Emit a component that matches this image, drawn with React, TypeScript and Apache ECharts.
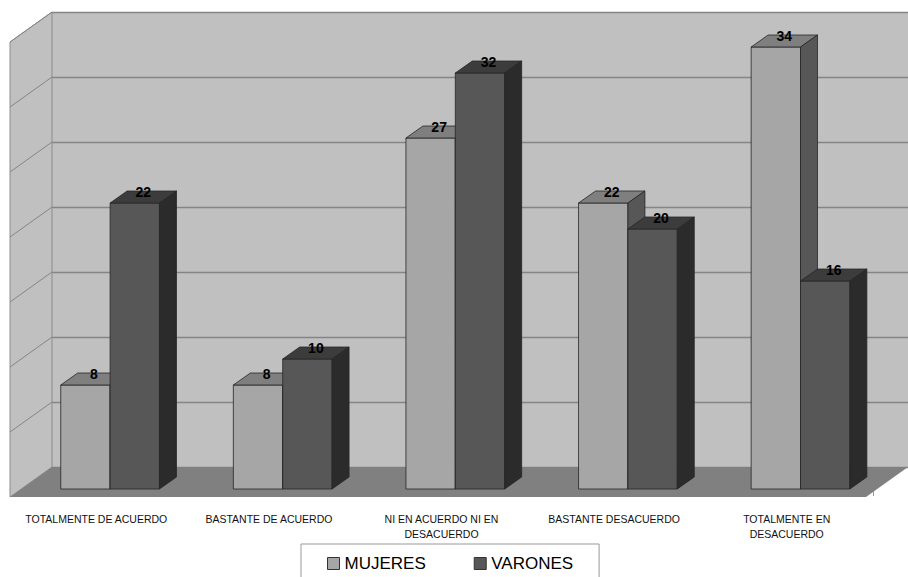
import { useEffect, useRef } from "react";
import * as echarts from "echarts";

const categories = [
  "TOTALMENTE DE ACUERDO",
  "BASTANTE DE ACUERDO",
  "NI EN ACUERDO NI EN\nDESACUERDO",
  "BASTANTE DESACUERDO",
  "TOTALMENTE EN\nDESACUERDO",
];
const mujeres = [8, 8, 27, 22, 34];
const varones = [22, 10, 32, 20, 16];
const seriesNames = ["MUJERES", "VARONES"];
const yMin = 0;
const yMax = 35;
const yInterval = 5;

const BAR_DX = 17;
const BAR_DY = -12;
const WALL_DX = -42;
const WALL_DY = 30;
const FONT = '"Liberation Sans", Arial, sans-serif';

const palette = [
  { front: "#a6a6a6", top: "#7f7f7f", side: "#575757" },
  { front: "#575757", top: "#3c3c3c", side: "#2b2b2b" },
];

function barRenderer(sIdx: number) {
  const c = palette[sIdx];
  return (_params: any, api: any) => {
    const cat = api.value(0);
    const val = api.value(1);
    const base = api.coord([cat, 0]);
    const top = api.coord([cat, val]);
    const band = api.size([1, 0])[0];
    const w = band * 0.286;
    const x0 = base[0] - band * 0.206 + sIdx * w;
    const x1 = x0 + w;
    const yb = base[1];
    const yt = top[1];
    const stroke = "#262626";
    const lw = 0.8;
    return {
      type: "group",
      children: [
        {
          type: "polygon",
          shape: { points: [[x0, yb], [x1, yb], [x1, yt], [x0, yt]] },
          style: { fill: c.front, stroke, lineWidth: lw },
        },
        {
          type: "polygon",
          shape: {
            points: [[x0, yt], [x1, yt], [x1 + BAR_DX, yt + BAR_DY], [x0 + BAR_DX, yt + BAR_DY]],
          },
          style: { fill: c.top, stroke, lineWidth: lw },
        },
        {
          type: "polygon",
          shape: {
            points: [[x1, yb], [x1 + BAR_DX, yb + BAR_DY], [x1 + BAR_DX, yt + BAR_DY], [x1, yt]],
          },
          style: { fill: c.side, stroke, lineWidth: lw },
        },
        {
          type: "text",
          x: x0 + w / 2 + BAR_DX / 2,
          y: yt + BAR_DY + 1,
          style: {
            text: String(val),
            fontSize: 14,
            fontWeight: "bold",
            fontFamily: FONT,
            fill: "#000",
            align: "center",
            verticalAlign: "middle",
          },
        },
      ],
    };
  };
}

function wallRenderer(_params: any, api: any) {
  const b0 = api.coord([0, yMin]);
  const b1 = api.coord([1, yMin]);
  const t0 = api.coord([0, yMax]);
  const children: any[] = [];
  children.push({
    type: "polygon",
    shape: {
      points: [
        [t0[0] + WALL_DX, t0[1] + WALL_DY],
        [t0[0], t0[1]],
        [b0[0], b0[1]],
        [b0[0] + WALL_DX, b0[1] + WALL_DY],
      ],
    },
    style: { fill: "#c0c0c0", stroke: "#8c8c8c", lineWidth: 1 },
  });
  for (let v = yMin + yInterval; v <= yMax; v += yInterval) {
    const p = api.coord([0, v]);
    children.push({
      type: "line",
      shape: { x1: p[0], y1: p[1], x2: p[0] + WALL_DX, y2: p[1] + WALL_DY },
      style: { stroke: "#858585", lineWidth: 1 },
    });
  }
  children.push({
    type: "polygon",
    shape: {
      points: [
        [b0[0] + WALL_DX, b0[1] + WALL_DY],
        [b1[0] + WALL_DX, b1[1] + WALL_DY],
        [b1[0], b1[1]],
        [b0[0], b0[1]],
      ],
    },
    style: { fill: "#808080" },
  });
  return { type: "group", children };
}

export default function App() {
  const ref = useRef<HTMLDivElement>(null);
  useEffect(() => {
    if (!ref.current) return;
    const chart = echarts.init(ref.current, undefined, { renderer: "svg" });
    chart.setOption({
      animation: false,
      backgroundColor: "#ffffff",
      grid: [
        { left: 10, right: 35, top: 34, bottom: 88, show: false },
        {
          left: 52,
          right: -6,
          top: 12,
          bottom: 110,
          show: true,
          backgroundColor: "#c0c0c0",
          borderWidth: 0,
        },
      ],
      xAxis: [
        {
          type: "category",
          gridIndex: 0,
          data: categories,
          offset: 10,
          axisLine: { show: true, lineStyle: { color: "#9a9a9a", width: 1 } },
          axisTick: { show: true, length: 7, lineStyle: { color: "#9a9a9a" } },
          axisLabel: {
            interval: 0,
            margin: 12,
            fontSize: 10.5,
            lineHeight: 15,
            fontFamily: FONT,
            color: "#111",
          },
        },
        { type: "value", gridIndex: 1, min: 0, max: 1, show: false },
      ],
      yAxis: [
        { type: "value", gridIndex: 0, min: yMin, max: yMax, interval: yInterval, show: false },
        {
          type: "value",
          gridIndex: 1,
          min: yMin,
          max: yMax,
          interval: yInterval,
          axisLine: { show: false },
          axisTick: { show: false },
          axisLabel: { show: false },
          splitLine: { show: true, lineStyle: { color: "#858585", width: 1.3 } },
        },
      ],
      legend: {
        left: 301,
        top: 544,
        orient: "horizontal",
        padding: [11, 26, 11, 26],
        itemGap: 48,
        itemWidth: 12,
        itemHeight: 12,
        borderColor: "#999",
        borderWidth: 1,
        textStyle: { fontSize: 17, fontFamily: FONT, color: "#000" },
        data: seriesNames.map((n, i) => ({
          name: n,
          icon: "rect",
          itemStyle: { color: palette[i].front, borderColor: "#333", borderWidth: 1 },
        })),
      },
      series: [
        {
          type: "custom",
          name: "wall",
          xAxisIndex: 1,
          yAxisIndex: 1,
          z: 1,
          silent: true,
          data: [[0, 0]],
          renderItem: wallRenderer,
        },
        {
          type: "custom",
          name: seriesNames[0],
          xAxisIndex: 0,
          yAxisIndex: 0,
          z: 3,
          itemStyle: { color: palette[0].front },
          data: mujeres.map((v, i) => [i, v]),
          renderItem: barRenderer(0),
        },
        {
          type: "custom",
          name: seriesNames[1],
          xAxisIndex: 0,
          yAxisIndex: 0,
          z: 4,
          itemStyle: { color: palette[1].front },
          data: varones.map((v, i) => [i, v]),
          renderItem: barRenderer(1),
        },
      ],
    });
    return () => chart.dispose();
  }, []);
  return (
    <div
      ref={ref}
      style={{ position: "fixed", left: 0, top: 0, width: 908, height: 577 }}
    />
  );
}
